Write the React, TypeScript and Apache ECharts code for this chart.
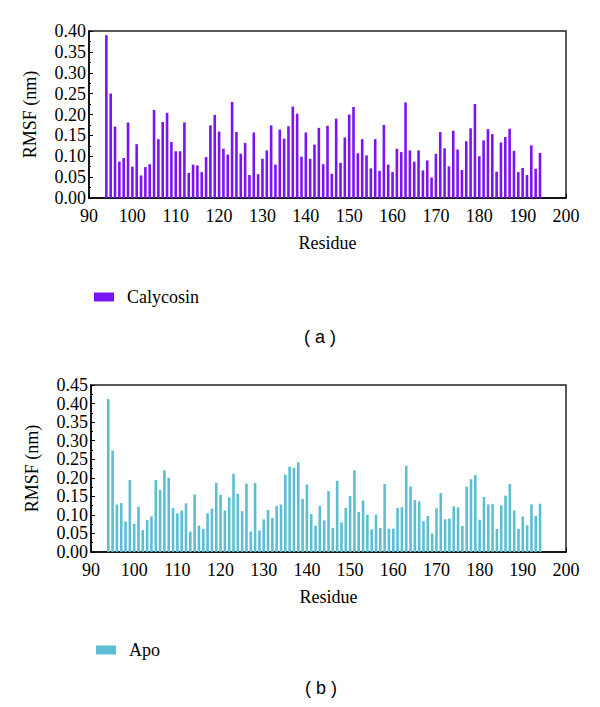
import React, { useEffect, useRef } from "react";
import * as echarts from "echarts";

const residues = [
  94, 95, 96, 97, 98, 99, 100, 101, 102, 103, 104, 105, 106, 107, 108, 109, 110,
  111, 112, 113, 114, 115, 116, 117, 118, 119, 120, 121, 122, 123, 124, 125, 126,
  127, 128, 129, 130, 131, 132, 133, 134, 135, 136, 137, 138, 139, 140, 141, 142,
  143, 144, 145, 146, 147, 148, 149, 150, 151, 152, 153, 154, 155, 156, 157, 158,
  159, 160, 161, 162, 163, 164, 165, 166, 167, 168, 169, 170, 171, 172, 173, 174,
  175, 176, 177, 178, 179, 180, 181, 182, 183, 184, 185, 186, 187, 188, 189, 190,
  191, 192, 193, 194,
];

const calycosin = [
  0.39, 0.25, 0.171, 0.087, 0.096, 0.181, 0.075, 0.129, 0.054, 0.074, 0.081,
  0.211, 0.141, 0.182, 0.204, 0.134, 0.112, 0.112, 0.181, 0.06, 0.08, 0.078,
  0.062, 0.098, 0.174, 0.199, 0.159, 0.118, 0.104, 0.23, 0.158, 0.106, 0.132,
  0.055, 0.157, 0.057, 0.094, 0.114, 0.174, 0.08, 0.164, 0.142, 0.172, 0.219,
  0.202, 0.099, 0.157, 0.094, 0.128, 0.168, 0.081, 0.173, 0.058, 0.19, 0.084,
  0.145, 0.2, 0.218, 0.107, 0.141, 0.102, 0.071, 0.141, 0.065, 0.175, 0.08,
  0.062, 0.118, 0.11, 0.229, 0.114, 0.087, 0.114, 0.066, 0.09, 0.049, 0.106,
  0.158, 0.119, 0.076, 0.161, 0.116, 0.067, 0.136, 0.167, 0.225, 0.1, 0.138,
  0.165, 0.153, 0.063, 0.133, 0.146, 0.166, 0.113, 0.062, 0.072, 0.055, 0.126,
  0.07, 0.108,
];

const apo = [
  0.412, 0.273, 0.128, 0.132, 0.082, 0.194, 0.076, 0.122, 0.059, 0.086, 0.096,
  0.194, 0.167, 0.22, 0.2, 0.118, 0.104, 0.112, 0.131, 0.055, 0.155, 0.071,
  0.062, 0.104, 0.117, 0.186, 0.154, 0.112, 0.147, 0.211, 0.157, 0.11, 0.184,
  0.055, 0.186, 0.058, 0.088, 0.113, 0.092, 0.124, 0.128, 0.208, 0.23, 0.227,
  0.242, 0.143, 0.182, 0.102, 0.071, 0.124, 0.085, 0.164, 0.065, 0.192, 0.08,
  0.119, 0.151, 0.22, 0.108, 0.139, 0.1, 0.061, 0.101, 0.065, 0.183, 0.063,
  0.063, 0.119, 0.121, 0.232, 0.177, 0.14, 0.136, 0.083, 0.097, 0.05, 0.118,
  0.159, 0.088, 0.09, 0.123, 0.12, 0.07, 0.176, 0.196, 0.207, 0.087, 0.148,
  0.128, 0.129, 0.062, 0.126, 0.152, 0.183, 0.112, 0.062, 0.096, 0.072, 0.128,
  0.097, 0.13,
];

const SERIF = "'Liberation Serif', 'DejaVu Serif', serif";
const SANS = "'Liberation Sans', Arial, sans-serif";
const PURPLE = "#7b14f2";
const CYAN = "#5cbfd1";

function xAxisCfg(gridIndex: number) {
  return {
    type: "value",
    gridIndex,
    min: 90,
    max: 200,
    interval: 10,
    name: "Residue",
    nameLocation: "middle",
    nameGap: 36,
    nameTextStyle: { fontFamily: SERIF, fontSize: 18, color: "#000" },
    axisLine: { show: true, onZero: false, lineStyle: { color: "#000", width: 1.5 } },
    axisTick: { show: true, inside: true, length: 4, lineStyle: { color: "#000" } },
    axisLabel: { fontFamily: SERIF, fontSize: 18, color: "#000", margin: 9 },
    splitLine: { show: false },
  };
}

function yAxisCfg(gridIndex: number, max: number) {
  return {
    type: "value",
    gridIndex,
    min: 0,
    max,
    interval: 0.05,
    name: "RMSF (nm)",
    nameLocation: "middle",
    nameGap: 50,
    nameTextStyle: { fontFamily: SERIF, fontSize: 18, color: "#000" },
    axisLine: { show: true, lineStyle: { color: "#000", width: 1.5 } },
    axisTick: { show: true, inside: true, length: 4, lineStyle: { color: "#000" } },
    minorTick: { show: true, splitNumber: 2, length: 2, lineStyle: { color: "#000" } },
    axisLabel: {
      fontFamily: SERIF,
      fontSize: 18,
      color: "#000",
      margin: 3,
      formatter: (v: number) => v.toFixed(2),
    },
    splitLine: { show: false },
  };
}

export default function App() {
  const ref = useRef<HTMLDivElement>(null);

  useEffect(() => {
    if (!ref.current) return;
    const chart = echarts.init(ref.current, null, { renderer: "svg" });
    const option = {
      animation: false,
      backgroundColor: "#fff",
      grid: [
        { left: 89, top: 31, width: 477, height: 167, show: true, borderColor: "#222", borderWidth: 1.5 },
        { left: 91, top: 385, width: 475, height: 167, show: true, borderColor: "#222", borderWidth: 1.5 },
      ],
      xAxis: [xAxisCfg(0), xAxisCfg(1)],
      yAxis: [yAxisCfg(0, 0.4), yAxisCfg(1, 0.45)],
      legend: [
        {
          data: ["Calycosin"],
          left: 89,
          top: 283,
          icon: "rect",
          itemWidth: 20,
          itemHeight: 9,
          textStyle: { fontFamily: SERIF, fontSize: 18, color: "#000", padding: [0, 0, 0, 8] },
        },
        {
          data: ["Apo"],
          left: 91,
          top: 636,
          icon: "rect",
          itemWidth: 20,
          itemHeight: 9,
          textStyle: { fontFamily: SERIF, fontSize: 18, color: "#000", padding: [0, 0, 0, 8] },
        },
      ],
      series: [
        {
          name: "Calycosin",
          type: "bar",
          xAxisIndex: 0,
          yAxisIndex: 0,
          barWidth: 2.6,
          itemStyle: { color: PURPLE },
          data: residues.map((r, i) => [r, calycosin[i]]),
        },
        {
          name: "Apo",
          type: "bar",
          xAxisIndex: 1,
          yAxisIndex: 1,
          barWidth: 2.6,
          itemStyle: { color: CYAN },
          data: residues.map((r, i) => [r, apo[i]]),
        },
      ],
      graphic: [
        {
          type: "text",
          left: 304,
          top: 328,
          style: { text: "( a )", fontFamily: SANS, fontSize: 18, fill: "#000" },
        },
        {
          type: "text",
          left: 305,
          top: 679,
          style: { text: "( b )", fontFamily: SANS, fontSize: 18, fill: "#000" },
        },
      ],
    };
    chart.setOption(option as any);
    return () => chart.dispose();
  }, []);

  return (
    <div
      ref={ref}
      style={{ position: "absolute", left: 0, top: 0, width: 600, height: 707 }}
    />
  );
}
